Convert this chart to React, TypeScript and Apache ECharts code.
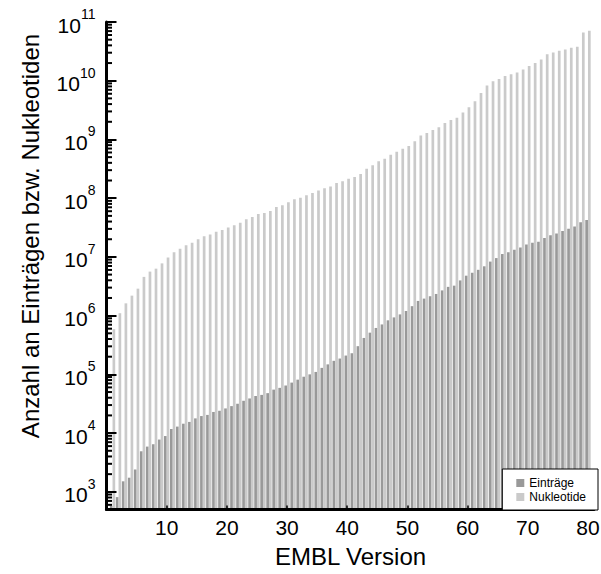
import React, { useEffect, useRef } from "react";
import * as echarts from "echarts";

const versions: number[] = Array.from({ length: 80 }, (_, i) => i + 1);

// Anzahl der Einträge (dark bars)
const eintraege: number[] = [
  575, 813, 1510, 1740, 2400, 4900, 5890, 6460, 7760, 8910,
  11750, 12900, 14450, 15500, 17800, 19500, 20400, 22900, 24000, 26300,
  28800, 31600, 35500, 38900, 42700, 44700, 47900, 55000, 58900, 64600,
  72400, 81300, 91200, 100000, 110000, 129000, 148000, 170000, 186000, 209000,
  229000, 302000, 417000, 513000, 617000, 708000, 832000, 933000, 1050000, 1200000,
  1450000, 1780000, 1950000, 2140000, 2340000, 2690000, 3090000, 3240000, 3980000, 4790000,
  5370000, 6030000, 6920000, 8320000, 9550000, 11200000, 12000000, 13200000, 14500000, 16200000,
  17400000, 18200000, 20900000, 23400000, 25100000, 27500000, 30200000, 33100000, 38900000, 42700000,
];

// Anzahl der Nukleotide (light bars)
const nukleotide: number[] = [
  589000, 1100000, 1620000, 2190000, 2880000, 4570000, 5620000, 6310000, 7760000, 9770000,
  12000000, 13800000, 15800000, 17400000, 20000000, 22400000, 24000000, 26900000, 28800000, 31600000,
  34700000, 38000000, 43700000, 47900000, 53700000, 56200000, 60300000, 70800000, 75900000, 85100000,
  95500000, 102000000, 112000000, 123000000, 135000000, 148000000, 158000000, 182000000, 195000000, 214000000,
  229000000, 257000000, 316000000, 363000000, 427000000, 468000000, 550000000, 617000000, 692000000, 776000000,
  933000000, 1.17e9, 1.29e9, 1.45e9, 1.62e9, 1.91e9, 2.14e9, 2.34e9, 2.88e9, 3.55e9,
  4.47e9, 6.17e9, 8.32e9, 9.77e9, 1.07e10, 1.2e10, 1.29e10, 1.38e10, 1.55e10, 1.78e10,
  2.0e10, 2.29e10, 2.82e10, 3.02e10, 3.24e10, 3.39e10, 3.63e10, 3.8e10, 6.61e10, 7.08e10,
];

const seriesNames = ["Einträge", "Nukleotide"];
const xTickLabels = [10, 20, 30, 40, 50, 60, 70, 80];
const yMin = 500;
const yMax = 1e11;
const minorMultipliers = [2, 3, 4, 5, 6, 7, 8, 9];
const decades = [2, 3, 4, 5, 6, 7, 8, 9, 10];

const FONT = "'Liberation Sans', Arial, Helvetica, sans-serif";
const DARK = "#999999";
const LIGHT = "#cacaca";

export default function App() {
  const ref = useRef<HTMLDivElement>(null);

  useEffect(() => {
    if (!ref.current) return;
    const chart = echarts.init(ref.current, undefined, { renderer: "svg" });

    const minorTicks: number[][] = [];
    decades.forEach((d) => {
      minorMultipliers.forEach((m) => {
        const v = m * Math.pow(10, d);
        if (v > yMin && v < yMax) minorTicks.push([0, v]);
      });
    });

    const option: any = {
      animation: false,
      backgroundColor: "#ffffff",
      grid: {
        left: 106.5,
        top: 22,
        right: 7,
        bottom: 64.5,
        containLabel: false,
        outerBoundsMode: "none",
      },
      legend: {
        orient: "vertical",
        right: 3,
        bottom: 64,
        z: 20,
        icon: "rect",
        itemWidth: 8,
        itemHeight: 8,
        itemGap: 2,
        padding: [8, 12, 7, 14],
        borderColor: "#000",
        borderWidth: 1,
        borderRadius: 0,
        backgroundColor: "#ffffff",
        textStyle: { fontSize: 12, fontFamily: FONT, color: "#000" },
        data: seriesNames,
      },
      xAxis: {
        type: "value",
        min: 0,
        max: 81,
        interval: 10,
        z: 10,
        splitLine: { show: false },
        axisLine: { show: true, lineStyle: { color: "#000", width: 3 } },
        axisTick: { show: true, inside: true, length: 4, lineStyle: { color: "#000", width: 1.5 } },
        axisLabel: {
          color: "#000",
          fontSize: 21,
          fontFamily: FONT,
          margin: 7,
          formatter: (v: number) => (xTickLabels.indexOf(v) >= 0 ? String(v) : ""),
        },
      },
      yAxis: {
        type: "log",
        logBase: 10,
        min: yMin,
        max: yMax,
        z: 10,
        splitLine: { show: false },
        axisLine: { show: true, lineStyle: { color: "#000", width: 3 } },
        axisTick: { show: true, inside: true, length: 10, lineStyle: { color: "#000", width: 2 } },
        axisLabel: {
          color: "#000",
          fontFamily: FONT,
          margin: 11,
          formatter: (v: number) => {
            const e = Math.log10(v);
            const r = Math.round(e);
            if (Math.abs(e - r) > 1e-6) return "";
            return "{b|10}{s|" + r + "}";
          },
          rich: {
            b: { fontSize: 21, lineHeight: 30, fontFamily: FONT, color: "#000", verticalAlign: "middle", padding: [6, 0, 0, 0] },
            s: { fontSize: 14, lineHeight: 14, fontFamily: FONT, color: "#000", verticalAlign: "top" },
          },
        },
      },
      series: [
        {
          name: seriesNames[0],
          type: "bar",
          barWidth: 2.7,
          barGap: "0%",
          itemStyle: { color: DARK },
          data: versions.map((x, i) => [x, eintraege[i]]),
        },
        {
          name: seriesNames[1],
          type: "bar",
          barWidth: 2.7,
          barGap: "0%",
          itemStyle: { color: LIGHT },
          data: versions.map((x, i) => [x, nukleotide[i]]),
        },
        {
          type: "custom",
          silent: true,
          z: 11,
          clip: false,
          encode: { x: 0, y: 1 },
          data: minorTicks,
          renderItem: (params: any, api: any) => {
            const p = api.coord([api.value(0), api.value(1)]);
            return {
              type: "line",
              shape: { x1: p[0], y1: p[1], x2: p[0] + 5.5, y2: p[1] },
              style: { stroke: "#000", lineWidth: 2 },
            };
          },
        },
      ],
      graphic: [
        {
          type: "text",
          x: 30,
          y: 236,
          rotation: Math.PI / 2,
          style: {
            text: "Anzahl an Einträgen bzw. Nukleotiden",
            fontSize: 24,
            fontFamily: FONT,
            fill: "#000",
            textAlign: "center",
            textVerticalAlign: "middle",
          },
        },
        {
          type: "text",
          x: 350.5,
          y: 556,
          style: {
            text: "EMBL Version",
            fontSize: 24,
            fontFamily: FONT,
            fill: "#000",
            textAlign: "center",
            textVerticalAlign: "middle",
          },
        },
      ],
    };

    chart.setOption(option);
    return () => {
      chart.dispose();
    };
  }, []);

  return (
    <div
      ref={ref}
      style={{ position: "fixed", left: 0, top: 0, width: 601, height: 574 }}
    />
  );
}
